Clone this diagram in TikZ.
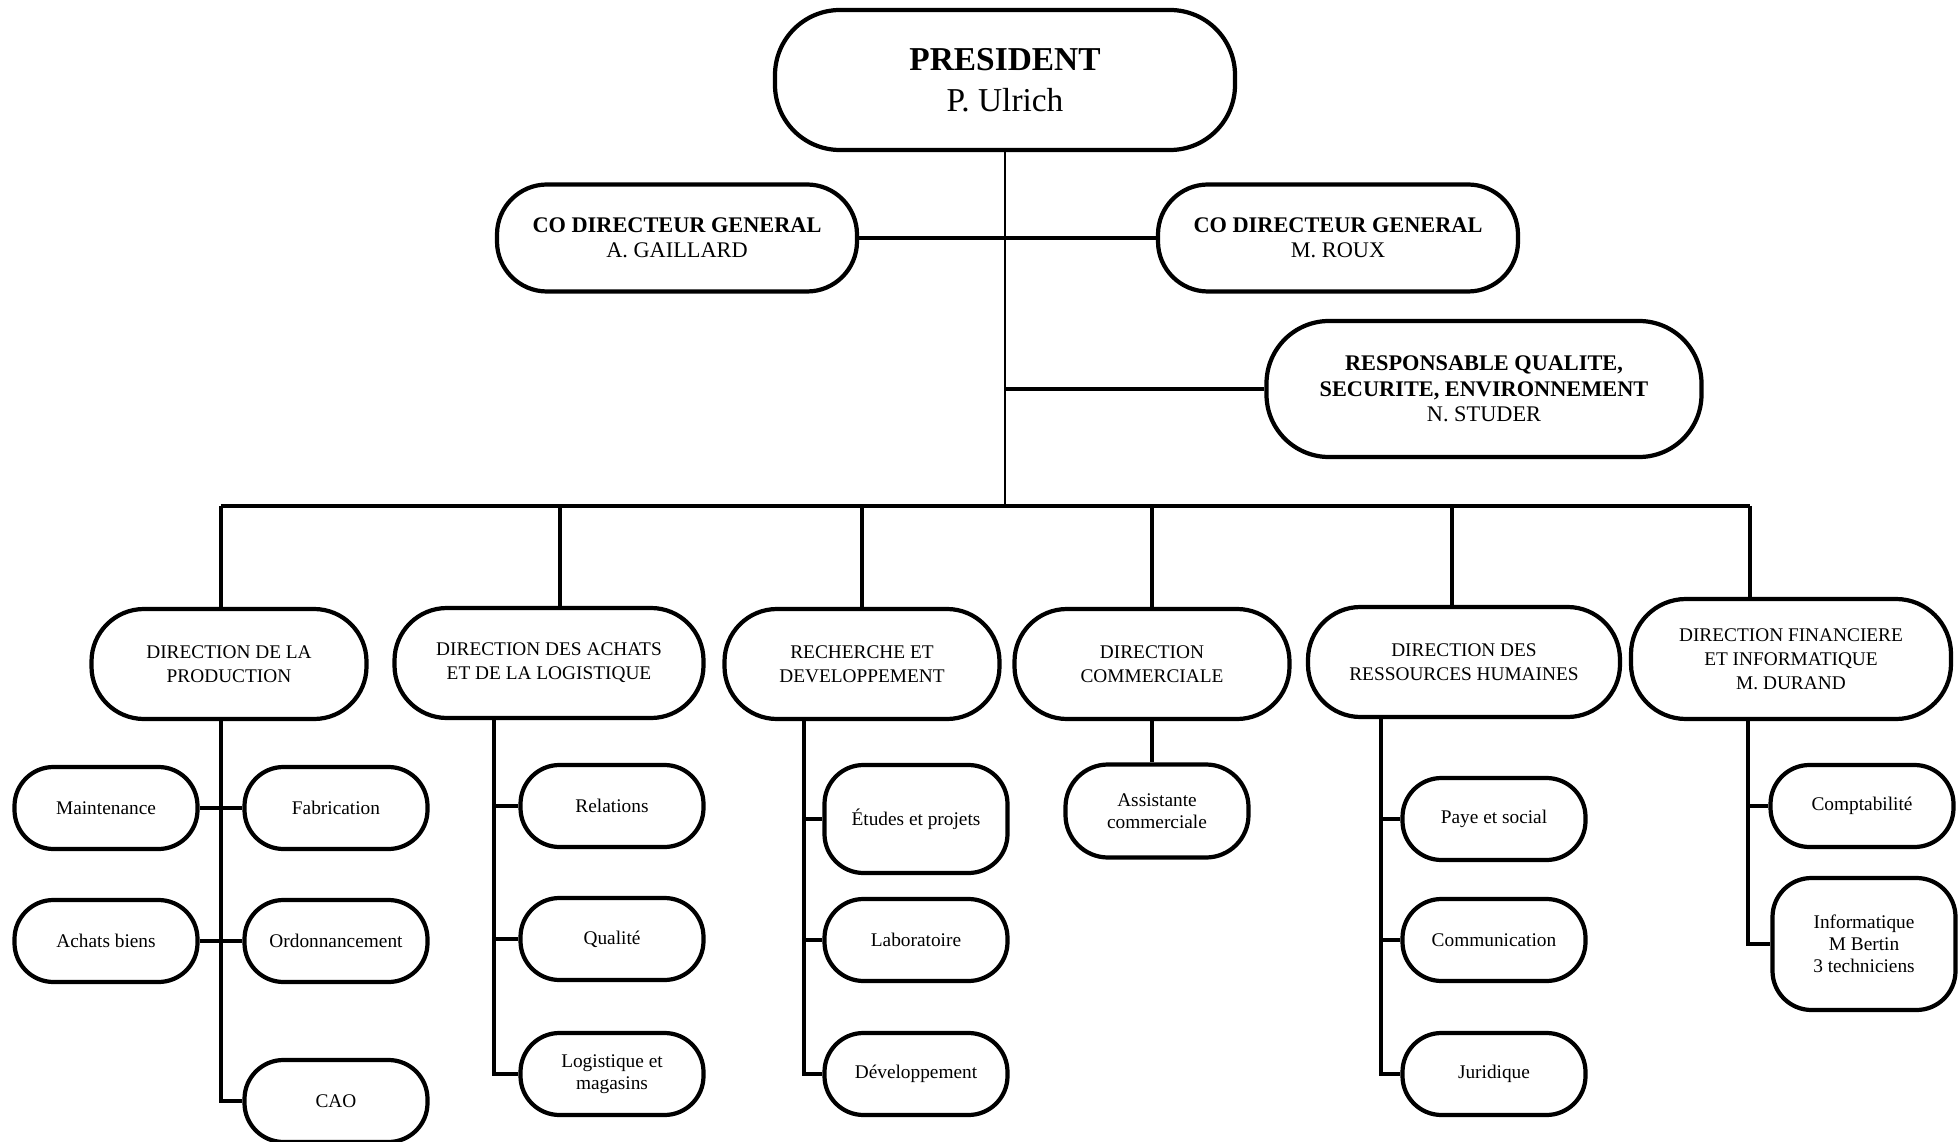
\documentclass[tikz,border=0pt]{standalone}
\usepackage{fontspec}
\setmainfont{Liberation Serif}
\usetikzlibrary{calc}

\tikzset{
  orgbox/.style={draw, line width=2.4pt, align=center, inner sep=2pt, fill=white},
  topbox/.style={orgbox, minimum width=9.2cm, minimum height=2.8cm, rounded corners=1.3cm, font=\fontsize{19}{23}\selectfont},
  cobox/.style={orgbox, minimum width=7.2cm, minimum height=2.14cm, rounded corners=1.0cm, font=\fontsize{12.7}{14.5}\selectfont},
  dirbox/.style={orgbox, minimum width=5.5cm, minimum height=2.2cm, rounded corners=1.05cm, font=\fontsize{11}{13.6}\selectfont},
  subbox/.style={orgbox, minimum width=3.66cm, minimum height=1.64cm, rounded corners=0.78cm, font=\fontsize{11}{12.6}\selectfont},
  wire/.style={line width=2.4pt},
}

\begin{document}
\begin{tikzpicture}[x=0.2mm, y=-0.2mm]
    \useasboundingbox (0,0) rectangle (1959,1142);
    % direction generale
    \node[topbox] (pres) at (1005,80) {\textbf{PRESIDENT}\\P. Ulrich};
    \node[cobox] (dgl) at (677,238) {\textbf{CO DIRECTEUR GENERAL}\\A. GAILLARD};
    \node[cobox] (dgr) at (1338,238) {\textbf{CO DIRECTEUR GENERAL}\\M. ROUX};
    \node[cobox, minimum width=8.7cm, minimum height=2.72cm, rounded corners=1.25cm] (qse) at (1484,389) {\textbf{RESPONSABLE QUALITE,}\\\textbf{SECURITE, ENVIRONNEMENT}\\N. STUDER};
    % directions
    \node[dirbox] (prod) at (229,664) {DIRECTION DE LA\\PRODUCTION};
    \node[dirbox, minimum width=6.18cm] (achat) at (549,663) {DIRECTION DES ACHATS\\ET DE LA LOGISTIQUE};
    \node[dirbox] (rd) at (862,664) {RECHERCHE ET\\DEVELOPPEMENT};
    \node[dirbox] (comm) at (1152,664) {DIRECTION\\COMMERCIALE};
    \node[dirbox, minimum width=6.24cm] (rh) at (1464,662) {DIRECTION DES\\RESSOURCES HUMAINES};
    \node[dirbox, minimum width=6.4cm, minimum height=2.4cm, rounded corners=1.1cm] (fin) at (1791,659) {DIRECTION FINANCIERE\\ET INFORMATIQUE\\M. DURAND};
    % services
    \node[subbox] (maint) at (106,808) {Maintenance};
    \node[subbox] (fab) at (336,808) {Fabrication};
    \node[subbox] (achb) at (106,941) {Achats biens};
    \node[subbox] (ordo) at (336,941) {Ordonnancement};
    \node[subbox] (cao) at (336,1101) {CAO};
    \node[subbox] (rel) at (612,806) {Relations};
    \node[subbox] (qual) at (612,939) {Qualité};
    \node[subbox] (logi) at (612,1074) {Logistique et\\magasins};
    \node[subbox, minimum height=2.16cm] (etud) at (916,819) {Études et projets};
    \node[subbox] (labo) at (916,940) {Laboratoire};
    \node[subbox] (devel) at (916,1074) {Développement};
    \node[subbox, minimum height=1.86cm, rounded corners=0.85cm] (assist) at (1157,811) {Assistante\\commerciale};
    \node[subbox] (paye) at (1494,819) {Paye et social};
    \node[subbox] (comu) at (1494,940) {Communication};
    \node[subbox] (juri) at (1494,1074) {Juridique};
    \node[subbox] (compt) at (1862,806) {Comptabilité};
    \node[subbox, minimum height=2.64cm] (info) at (1864,944) {Informatique\\M Bertin\\3 techniciens};
    % bus and trunks
    \coordinate (b1) at (221,506);
    \coordinate (b2) at (560,506);
    \coordinate (b3) at (862,506);
    \coordinate (b4) at (1152,506);
    \coordinate (b5) at (1452,506);
    \coordinate (b6) at (1750,506);
    \coordinate (t2) at (494,0);
    \coordinate (t3) at (804,0);
    \coordinate (t5) at (1381,0);
    \coordinate (t6) at (1748,0);
    \draw[line width=1.6pt] (pres.south) -- (pres.south |- b1);
    \draw[wire] (dgl.east) -- (dgr.west);
    \draw[wire] (qse.west) -- (qse.west -| pres.south);
    \draw[wire] (b1) -- (b6);
    \foreach \b/\d in {b1/prod, b2/achat, b3/rd, b4/comm, b5/rh, b6/fin}
        \draw[wire] (\b) -- (\b |- \d.north);
    % production
    \draw[wire] (b1 |- prod.south) -- (b1 |- cao.west) -- (cao.west);
    \draw[wire] (maint.east) -- (fab.west);
    \draw[wire] (achb.east) -- (ordo.west);
    % achats
    \draw[wire] (t2 |- achat.south) -- (t2 |- logi.west) -- (logi.west);
    \draw[wire] (t2 |- rel.west) -- (rel.west);
    \draw[wire] (t2 |- qual.west) -- (qual.west);
    % recherche
    \draw[wire] (t3 |- rd.south) -- (t3 |- devel.west) -- (devel.west);
    \draw[wire] (t3 |- etud.west) -- (etud.west);
    \draw[wire] (t3 |- labo.west) -- (labo.west);
    % commercial
    \draw[wire] (comm.south) -- (comm.south |- assist.north);
    % ressources humaines
    \draw[wire] (t5 |- rh.south) -- (t5 |- juri.west) -- (juri.west);
    \draw[wire] (t5 |- paye.west) -- (paye.west);
    \draw[wire] (t5 |- comu.west) -- (comu.west);
    % finances
    \draw[wire] (t6 |- fin.south) -- (t6 |- info.west) -- (info.west);
    \draw[wire] (t6 |- compt.west) -- (compt.west);
\end{tikzpicture}
\end{document}
